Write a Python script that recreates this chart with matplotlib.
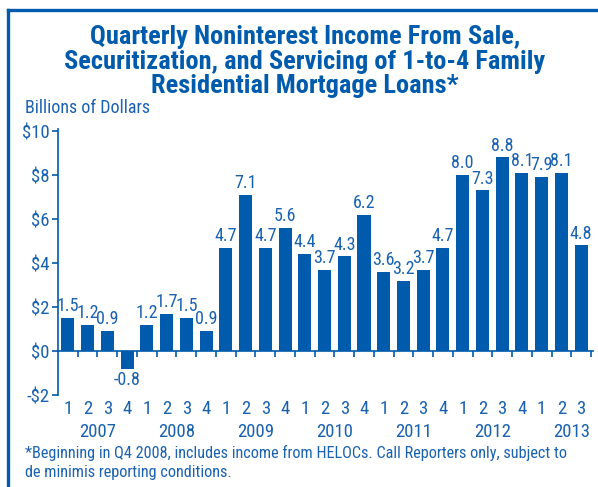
import matplotlib
matplotlib.use("Agg")
import matplotlib.pyplot as plt
from matplotlib.lines import Line2D
from matplotlib.ticker import FixedLocator
import numpy as np

# Quarterly noninterest income, billions of dollars
quarters = ["1", "2", "3", "4"] * 6 + ["1", "2", "3"]
years = ["2007", "2008", "2009", "2010", "2011", "2012", "2013"]
values = [1.5, 1.2, 0.9, -0.8,
          1.2, 1.7, 1.5, 0.9,
          4.7, 7.1, 4.7, 5.6,
          4.4, 3.7, 4.3, 6.2,
          3.6, 3.2, 3.7, 4.7,
          8.0, 7.3, 8.8, 8.1,
          7.9, 8.1, 4.8]
yticks = [-2, 0, 2, 4, 6, 8, 10]
ytick_labels = ["-$2", "$0", "$2", "$4", "$6", "$8", "$10"]

BAR = "#005bac"
TXT = "#1a62b0"
COND = ["Roboto Condensed", "DejaVu Sans"]

W, H = 598, 487
fig = plt.figure(figsize=(W / 100, H / 100), dpi=100)

ax_left, ax_right = 58 / W, 593 / W
ax_top, ax_bot = 128.8 / H, 395 / H
ax = fig.add_axes([ax_left, 1 - ax_bot, ax_right - ax_left, ax_bot - ax_top])

x = np.arange(len(values))
ax.bar(x, values, width=0.66, color=BAR, zorder=2)

ax.set_xlim(-0.5, len(values) - 0.4)
ax.set_ylim(-2, 10.1)

# value labels
for xi, v in zip(x, values):
    if v >= 0:
        ax.annotate(f"{v:.1f}", (xi, v), xytext=(0, 2), textcoords="offset points",
                    ha="center", va="bottom", fontsize=13, color=TXT, family=COND)
    else:
        ax.annotate(f"{v:.1f}", (xi, v), xytext=(0, -2), textcoords="offset points",
                    ha="center", va="top", fontsize=13, color=TXT, family=COND)

# axes styling
for s in ["top", "right"]:
    ax.spines[s].set_visible(False)
ax.spines["left"].set_color(BAR)
ax.spines["left"].set_linewidth(1.2)
ax.spines["bottom"].set_position(("data", 0))
ax.spines["bottom"].set_color(BAR)
ax.spines["bottom"].set_linewidth(1.2)

ax.set_yticks(yticks)
ax.set_yticklabels(ytick_labels, family=COND, fontsize=13.5, color=TXT)
ax.tick_params(axis="y", direction="out", length=4, width=1.2, color=BAR, pad=2)

ax.set_xticks(x)
ax.set_xticklabels(quarters, family=COND, fontsize=13.5, color=TXT)
ax.tick_params(axis="x", which="major", length=0, pad=35)
ax.xaxis.set_minor_locator(FixedLocator(np.arange(len(values)) + 0.5))
ax.tick_params(axis="x", which="minor", direction="out", length=4, width=1.2, color=BAR)

# year labels centred under their quarters
for i, yr in enumerate(years):
    n = min(4, len(values) - 4 * i)
    xc = 4 * i + (n - 1) / 2
    if i == len(years) - 1:
        xc = 4 * i + 1.5
    ax.annotate(yr, (xc, 0), xycoords=("data", "axes fraction"), xytext=(0, -26.5),
                textcoords="offset points", ha="center", va="center",
                fontsize=13.5, color=TXT, family=COND, annotation_clip=False)

# title and captions
fig.text(305 / W, 1 - 61.5 / H,
         "Quarterly Noninterest Income From Sale,\n"
         "Securitization, and Servicing of 1-to-4 Family\n"
         "Residential Mortgage Loans*",
         ha="center", va="center", fontsize=19, fontweight="bold",
         color=BAR, family=COND, linespacing=1.04)
fig.text(25 / W, 1 - 108 / H, "Billions of Dollars", ha="left", va="center",
         fontsize=13, color=TXT, family=COND)
fig.text(25 / W, 1 - 453 / H,
         "*Beginning in Q4 2008, includes income from HELOCs. Call Reporters only, subject to",
         ha="left", va="center", fontsize=11.7, color=TXT, family=COND)
fig.text(25 / W, 1 - 473 / H, "de minimis reporting conditions.", ha="left", va="center",
         fontsize=11.7, color=TXT, family=COND)

# frame lines along the left and top edges
fig.add_artist(Line2D([8 / W, 8 / W], [0, 1 - 10 / H], color=BAR, lw=2.4,
                      transform=fig.transFigure))
fig.add_artist(Line2D([8 / W, 1], [1 - 10 / H, 1 - 10 / H], color=BAR, lw=2.4,
                      transform=fig.transFigure, solid_capstyle="projecting"))

fig.savefig("out.png", dpi=100)
